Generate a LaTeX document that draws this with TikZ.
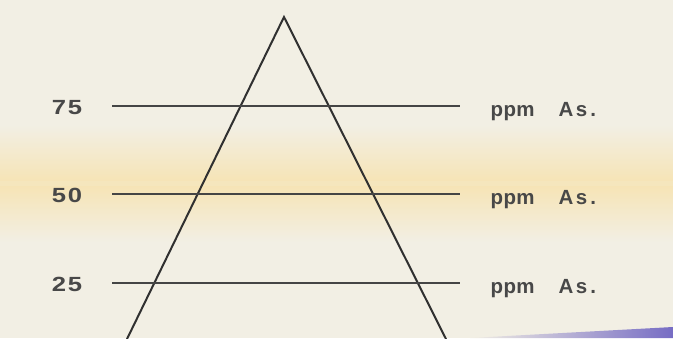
\documentclass[tikz,border=0pt]{standalone}
\usepackage{fontspec}
\setmainfont{Liberation Sans}
\definecolor{paper}{RGB}{242,239,228}
\definecolor{band}{RGB}{246,228,182}
\definecolor{streak}{RGB}{118,108,196}
\definecolor{ink}{RGB}{48,48,48}
\definecolor{txt}{RGB}{72,72,72}
\tikzset{
  frame/.style={line width=2pt, draw=ink, line cap=round},
  level/.style={line width=1.6pt, draw=ink!90},
  num/.style={anchor=base, text=txt, font=\fontsize{20.5}{20.5}\selectfont\bfseries, inner sep=0pt},
  unit/.style={anchor=base west, text=txt, font=\fontsize{20.5}{20.5}\selectfont\bfseries, inner sep=0pt},
}
\newcommand{\numtxt}[1]{\scalebox{1.25}[1]{#1}}
\newcommand{\ppmtxt}{p\kern0.3pt p\kern0.3pt m\hspace{24pt}A\kern2.5pt s\kern3pt .}
\begin{document}
\begin{tikzpicture}[x=1pt,y=-1pt]
\useasboundingbox (0,0) rectangle (673,338);
% paper and stains
\fill[paper] (0,0) rectangle (673,338);
\shade[top color=paper, bottom color=band] (0,125) rectangle (673,181);
\fill[band!85!paper] (0,181) rectangle (673,186);
\shade[top color=band, bottom color=paper] (0,186) rectangle (673,242);
\shade[left color=paper, right color=streak] (470,338) -- (673,327) -- (673,338) -- cycle;
% triangle
\coordinate (apex) at (284,17);
\coordinate (bl) at (127,339);
\coordinate (br) at (446,339);
\draw[frame] (bl) -- (apex) -- (br);
% level lines
\coordinate (a75) at (112,106); \coordinate (b75) at (460,106);
\coordinate (a50) at (112,194); \coordinate (b50) at (460,194);
\coordinate (a25) at (112,283); \coordinate (b25) at (460,283);
\draw[level] (a75) -- (b75);
\draw[level] (a50) -- (b50);
\draw[level] (a25) -- (b25);
% labels
\node[num] (n75) at (67,114) {\numtxt{7\kern1.5pt 5}};
\node[num] (n50) at (67,202.5) {\numtxt{5\kern1.5pt 0}};
\node[num] (n25) at (67,291) {\numtxt{2\kern1.5pt 5}};
\node[unit] (u75) at (490.5,116) {\ppmtxt};
\node[unit] (u50) at (490.5,204.5) {\ppmtxt};
\node[unit] (u25) at (490.5,293) {\ppmtxt};
\end{tikzpicture}
\end{document}
